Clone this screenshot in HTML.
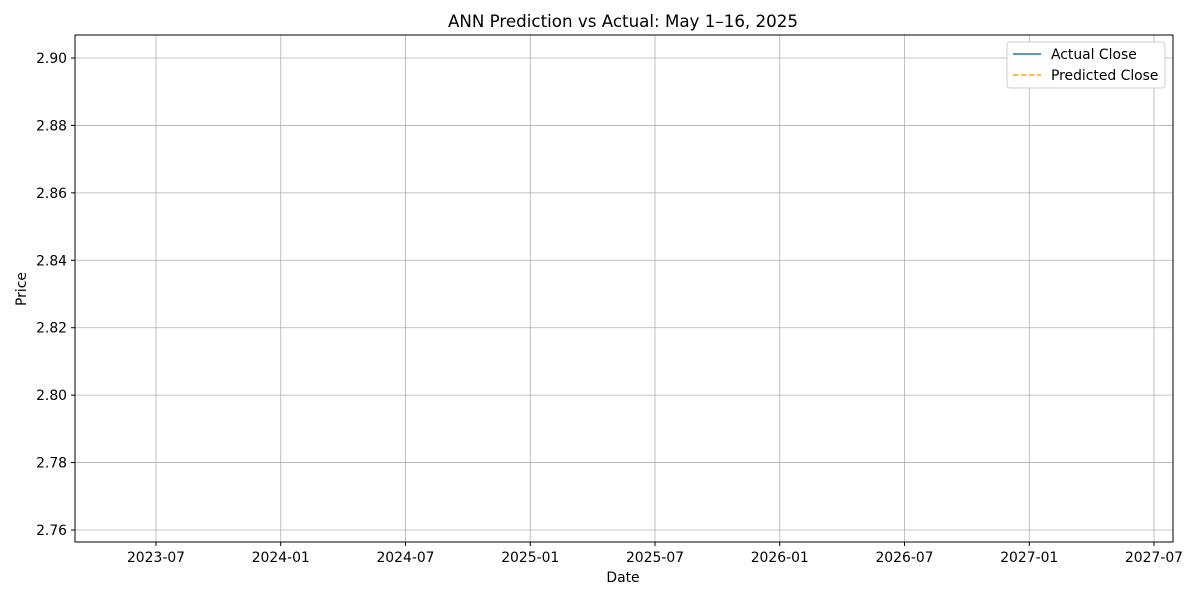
<!DOCTYPE html>
<html><head><meta charset="utf-8"><style>
body{margin:0;background:#fff;font-family:"Liberation Sans","DejaVu Sans",sans-serif;}
svg text{font-family:"DejaVu Sans","Liberation Sans",sans-serif;}
</style></head><body>
<svg id="chart" width="1200" height="600" xmlns="http://www.w3.org/2000/svg">
<rect width="1200" height="600" fill="#fff"/>
<text x="623" y="27" font-size="16.7" text-anchor="middle">ANN Prediction vs Actual: May 1–16, 2025</text>
<g id="grid"></g><g id="ticks"></g>
<g id="series"></g>
<rect x="75" y="35" width="1098" height="507" fill="none" stroke="#000" stroke-width="1"/>
<text x="623" y="582" font-size="13.9" text-anchor="middle">Date</text>
<text x="26" y="289" font-size="13.9" text-anchor="middle" transform="rotate(-90 26 289)">Price</text>
<g>
<rect x="1007" y="42" width="158" height="46" rx="3" fill="#fff" stroke="#ccc"/>
<g>
<line x1="1013" y1="54" x2="1041" y2="54" stroke="#1f77b4" stroke-width="1.5"/>
<text x="1051" y="59" font-size="13.9">Actual Close</text></g>
<g>
<line x1="1013" y1="75" x2="1041" y2="75" stroke="orange" stroke-width="1.5" stroke-dasharray="5.5,2.5"/>
<text x="1051" y="80" font-size="13.9">Predicted Close</text></g>
</g>
</svg>
<script>
const yTicks=[2.76,2.78,2.80,2.82,2.84,2.86,2.88,2.90];
const xTickLabels=["2023-07","2024-01","2024-07","2025-01","2025-07","2026-01","2026-07","2027-01","2027-07"];
const xTickIdx=[0,1,2,3,4,5,6,7,8];
const actualValues=[];
const predictedValues=[];
const NS="http://www.w3.org/2000/svg";
function yScale(v){return 530-(v-2.76)/0.14*472;}
function xScale(i){return 156+i*124.75;}
const grid=document.getElementById('grid'),ticks=document.getElementById('ticks');
function mk(t,a,p){const e=document.createElementNS(NS,t);for(const k in a)e.setAttribute(k,a[k]);p.appendChild(e);return e;}
yTicks.forEach(v=>{const y=yScale(v);
const g=mk('line',{x1:75,x2:1173,y1:y,y2:y,stroke:'#b0b0b0','stroke-width':0.8},grid);


mk('line',{x1:71,x2:75,y1:y,y2:y,stroke:'#000'},ticks);
const t=mk('text',{x:67,y:y+5,'font-size':13.9,'text-anchor':'end'},ticks);t.textContent=v.toFixed(2);

});
xTickIdx.forEach((i,k)=>{const x=xScale(i);
const g=mk('line',{x1:x,x2:x,y1:35,y2:542,stroke:'#b0b0b0','stroke-width':0.8},grid);


mk('line',{x1:x,x2:x,y1:542,y2:546,stroke:'#000'},ticks);
const t=mk('text',{x:x,y:562,'font-size':13.9,'text-anchor':'middle'},ticks);t.textContent=xTickLabels[k];

});
</script>
</body></html>
